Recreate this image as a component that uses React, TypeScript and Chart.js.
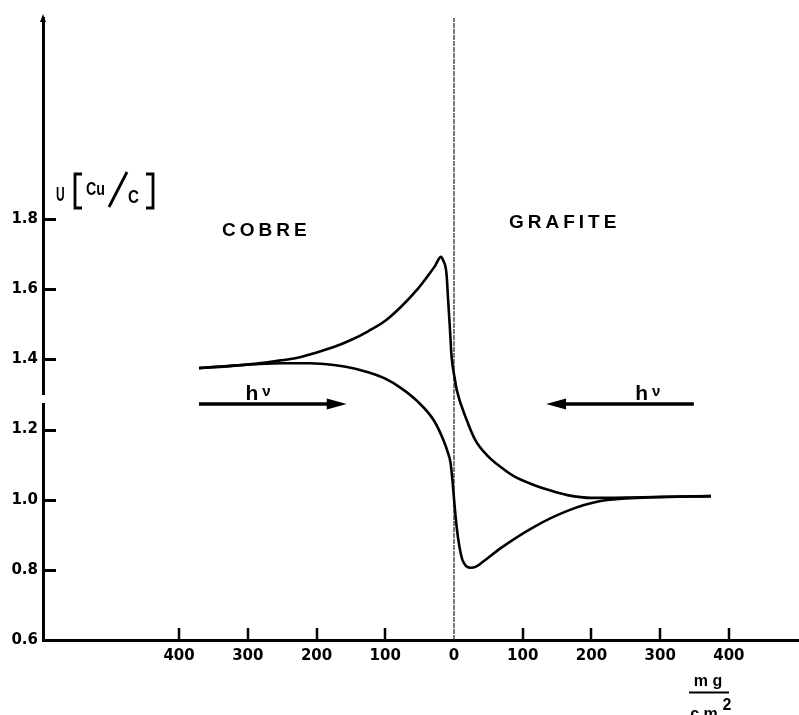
import React, { useEffect, useRef } from "react";
import { Chart, registerables } from "chart.js";

Chart.register(...registerables);

// Upper branch (peak near the interface)
const upperX = [-371, -330, -290, -252, -223, -175, -150, -125, -100, -77, -53, -38, -28, -19, -16, -11, -8.5, -6, -3.5, 1.5, 4, 18.5, 31, 49, 68, 87, 116, 137, 165, 200, 250, 300, 374];
const upperY = [1.375, 1.38, 1.387, 1.397, 1.407, 1.435, 1.455, 1.48, 1.51, 1.55, 1.6, 1.638, 1.665, 1.692, 1.683, 1.646, 1.569, 1.49, 1.408, 1.341, 1.313, 1.227, 1.17, 1.125, 1.093, 1.067, 1.042, 1.028, 1.013, 1.005, 1.006, 1.008, 1.01];

// Lower branch (dip near the interface)
const lowerX = [-371, -330, -290, -250, -210, -175, -145, -125, -100, -77, -53, -29, -15, -9, -5, -2, 1, 4, 8, 12, 17, 24, 32, 44, 68, 116, 165, 213, 282, 374];
const lowerY = [1.375, 1.381, 1.386, 1.389, 1.389, 1.384, 1.374, 1.363, 1.345, 1.318, 1.28, 1.225, 1.168, 1.135, 1.105, 1.05, 0.98, 0.92, 0.865, 0.83, 0.812, 0.806, 0.809, 0.826, 0.862, 0.922, 0.968, 0.996, 1.006, 1.01];

const xTickValues = [-400, -300, -200, -100, 0, 100, 200, 300, 400];
const yTickValues = [0.6, 0.8, 1.0, 1.2, 1.4, 1.6, 1.8];
const regionLabels = ["COBRE", "GRAFITE"];
const photonLabel = ["h", "ν"];
const unitTop = "m g";
const unitBottom = "c m";

const X_MIN = -598;
const X_MAX = 502;
const Y_MIN = 0.6;
const Y_MAX = 2.373;

const toPoints = (xs: number[], ys: number[]) => xs.map((x, i) => ({ x, y: ys[i] }));

const decoPlugin = {
  id: "deco",
  afterDraw(chart: any) {
    const { ctx, chartArea } = chart;
    const xs = chart.scales.x;
    const ys = chart.scales.y;
    const L = chartArea.left;
    const B = chartArea.bottom;
    ctx.save();
    ctx.strokeStyle = "#000";
    ctx.fillStyle = "#000";
    ctx.lineCap = "butt";

    const line = (x1: number, y1: number, x2: number, y2: number, w: number) => {
      ctx.lineWidth = w;
      ctx.beginPath();
      ctx.moveTo(x1, y1);
      ctx.lineTo(x2, y2);
      ctx.stroke();
    };

    // inward tick marks on y axis
    for (const v of yTickValues) {
      if (v <= Y_MIN) continue;
      const py = Math.round(ys.getPixelForValue(v)) + 0.5;
      line(L, py, L + 13, py, 3);
    }
    // upward tick marks on x axis
    for (const v of xTickValues) {
      if (v === 0) continue;
      const px = Math.round(xs.getPixelForValue(v));
      line(px, B, px, B - 12, 2.5);
    }

    // arrowhead on top of y axis
    const top = chartArea.top;
    ctx.beginPath();
    ctx.moveTo(L, top - 4);
    ctx.lineTo(L - 3, top + 4);
    ctx.lineTo(L + 3, top + 4);
    ctx.closePath();
    ctx.fill();

    // small break in the y axis (as in the original print)
    ctx.fillStyle = "#fff";
    ctx.fillRect(L - 5, 395, 10, 8);
    ctx.fillStyle = "#000";

    // photon arrows
    const arrow = (fromV: number, toV: number, yV: number) => {
      const x1 = xs.getPixelForValue(fromV);
      const x2 = xs.getPixelForValue(toV);
      const y = ys.getPixelForValue(yV);
      const dir = Math.sign(x2 - x1);
      const head = 20;
      line(x1, y, x2 - dir * head + dir * 2, y, 3.5);
      ctx.beginPath();
      ctx.moveTo(x2, y);
      ctx.lineTo(x2 - dir * head, y - 5.5);
      ctx.lineTo(x2 - dir * head, y + 5.5);
      ctx.closePath();
      ctx.fill();
    };
    arrow(-371, -156, 1.273);
    arrow(349, 134, 1.273);

    const hv = (xV: number, yV: number) => {
      const px = xs.getPixelForValue(xV);
      const py = ys.getPixelForValue(yV);
      ctx.textAlign = "left";
      ctx.textBaseline = "alphabetic";
      ctx.font = "bold 21px 'Liberation Sans', Arial, sans-serif";
      const wh = ctx.measureText(photonLabel[0]).width;
      ctx.font = "bold 15px 'Liberation Sans', Arial, sans-serif";
      const wn = ctx.measureText(photonLabel[1]).width;
      const total = wh + 4 + wn;
      const start = px - total / 2;
      ctx.font = "bold 21px 'Liberation Sans', Arial, sans-serif";
      ctx.fillText(photonLabel[0], start, py);
      ctx.font = "bold 15px 'Liberation Sans', Arial, sans-serif";
      ctx.fillText(photonLabel[1], start + wh + 4, py - 4);
    };
    hv(-285, 1.284);
    hv(282, 1.284);

    // region labels
    ctx.font = "bold 19px 'Liberation Sans', Arial, sans-serif";
    ctx.textAlign = "center";
    ctx.textBaseline = "alphabetic";
    (ctx as any).letterSpacing = "4px";
    ctx.fillText(regionLabels[0], xs.getPixelForValue(-273), ys.getPixelForValue(1.752));
    ctx.fillText(regionLabels[1], xs.getPixelForValue(161), ys.getPixelForValue(1.774));
    (ctx as any).letterSpacing = "0px";

    // y axis title  U[Cu/C]
    ctx.textAlign = "left";
    const condensed = (t: string, x: number, y: number, size: number, sx: number) => {
      ctx.save();
      ctx.translate(x, y);
      ctx.scale(sx, 1);
      ctx.font = `bold ${size}px 'Liberation Sans', Arial, sans-serif`;
      ctx.fillText(t, 0, 0);
      ctx.restore();
    };
    condensed("U", 56, 201, 20, 0.6);
    ctx.lineWidth = 2.8;
    ctx.beginPath();
    ctx.moveTo(82, 174);
    ctx.lineTo(75, 174);
    ctx.lineTo(75, 208);
    ctx.lineTo(82, 208);
    ctx.stroke();
    condensed("Cu", 86, 195, 19, 0.75);
    line(109, 207, 127, 172, 2.8);
    condensed("C", 128, 203, 19, 0.8);
    ctx.lineWidth = 2.8;
    ctx.beginPath();
    ctx.moveTo(146, 174);
    ctx.lineTo(153, 174);
    ctx.lineTo(153, 208);
    ctx.lineTo(146, 208);
    ctx.stroke();

    // unit fraction mg / cm^2
    ctx.textAlign = "center";
    ctx.font = "bold 16px 'Liberation Sans', Arial, sans-serif";
    ctx.fillText(unitTop, 708, 686);
    line(689, 692.5, 729, 692.5, 2.2);
    ctx.fillText(unitBottom, 704, 719);
    ctx.font = "bold 16px 'Liberation Sans', Arial, sans-serif";
    ctx.fillText("2", 727, 710);

    ctx.restore();
  },
};

export default function App() {
  const canvasRef = useRef<HTMLCanvasElement | null>(null);

  useEffect(() => {
    const canvas = canvasRef.current;
    if (!canvas) return;
    const tickFont = { family: "'DejaVu Sans', sans-serif", size: 15, weight: "bold" as const };
    const chart = new Chart(canvas, {
      type: "line",
      data: {
        datasets: [
          {
            label: "upper",
            data: toPoints(upperX, upperY),
            borderColor: "#000",
            borderWidth: 2.6,
            pointRadius: 0,
            cubicInterpolationMode: "monotone",
            fill: false,
          },
          {
            label: "lower",
            data: toPoints(lowerX, lowerY),
            borderColor: "#000",
            borderWidth: 2.6,
            pointRadius: 0,
            cubicInterpolationMode: "monotone",
            fill: false,
          },
          {
            label: "interface",
            data: [
              { x: 0, y: Y_MIN },
              { x: 0, y: Y_MAX },
            ],
            borderColor: "#222",
            borderWidth: 1.2,
            borderDash: [5, 1],
            pointRadius: 0,
            fill: false,
          },
        ],
      },
      options: {
        animation: false,
        responsive: false,
        devicePixelRatio: 1,
        layout: { padding: { top: 18, left: 0, right: 0, bottom: 0 } },
        plugins: {
          legend: { display: false },
          tooltip: { enabled: false },
        },
        scales: {
          x: {
            type: "linear",
            min: X_MIN,
            max: X_MAX,
            afterBuildTicks: (s: any) => {
              s.ticks = xTickValues.map((v) => ({ value: v }));
            },
            afterFit: (s: any) => {
              s.height = 75;
            },
            grid: { display: false, drawTicks: false },
            border: { display: true, width: 3, color: "#000" },
            ticks: {
              autoSkip: false,
              maxRotation: 0,
              padding: 7,
              color: "#000",
              font: tickFont,
              callback: (v: any) => String(Math.abs(Number(v))),
            },
          },
          y: {
            type: "linear",
            min: Y_MIN,
            max: Y_MAX,
            afterBuildTicks: (s: any) => {
              s.ticks = yTickValues.map((v) => ({ value: v }));
            },
            afterFit: (s: any) => {
              s.width = 43;
            },
            grid: { display: false, drawTicks: false },
            border: { display: true, width: 3, color: "#000" },
            ticks: {
              padding: 5,
              color: "#000",
              font: tickFont,
              callback: (v: any) => Number(v).toFixed(1),
            },
          },
        },
      },
      plugins: [decoPlugin],
    } as any);
    return () => chart.destroy();
  }, []);

  return (
    <div style={{ position: "absolute", left: 0, top: 0, width: 799, height: 715, background: "#fff" }}>
      <canvas ref={canvasRef} width={799} height={715} style={{ display: "block", width: 799, height: 715 }} />
    </div>
  );
}
